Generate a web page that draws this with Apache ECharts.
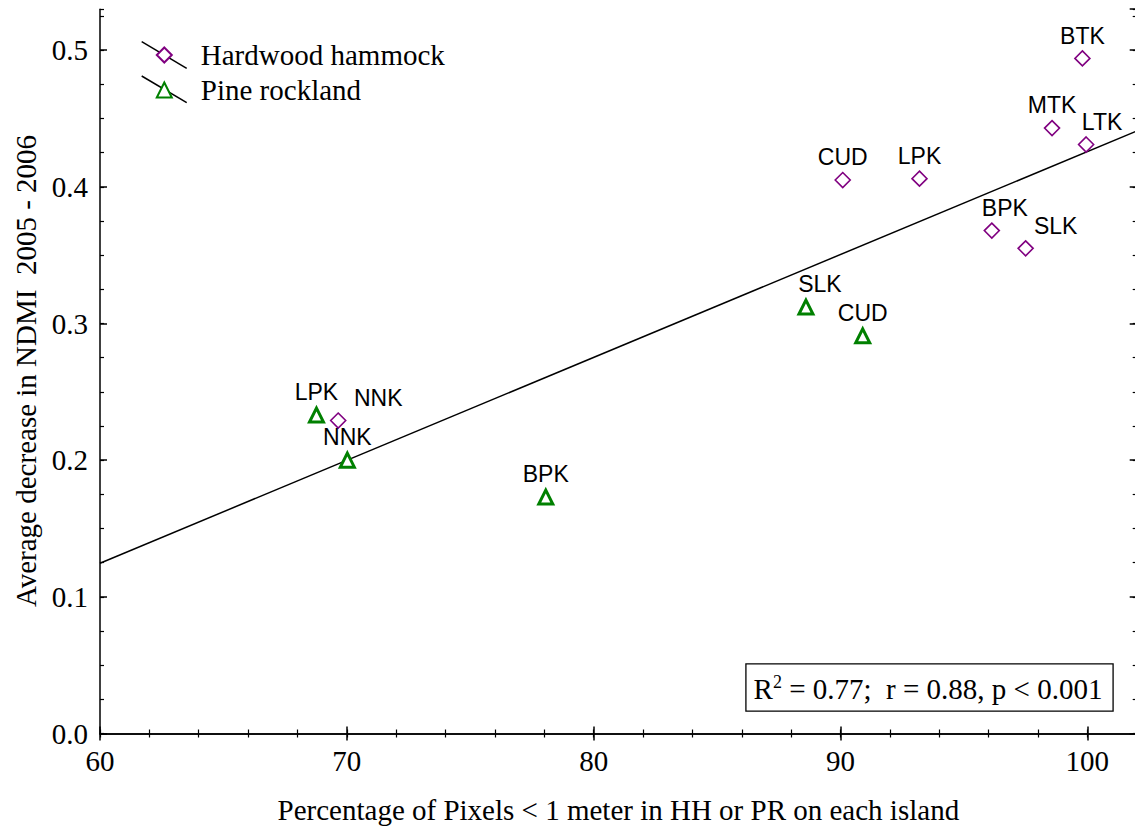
<!DOCTYPE html>
<html>
<head>
<meta charset="utf-8">
<title>NDMI decrease vs. low-elevation pixels</title>
<script src="https://cdn.jsdelivr.net/npm/echarts@6/dist/echarts.min.js"></script>
<style>
  html, body { margin: 0; padding: 0; background: #fff; }
  #chart { width: 1135px; height: 826px; }
</style>
</head>
<body>
<div id="chart"></div>
<script>
// Hardwood hammock (HH) islands
const hhNames = ['BTK', 'MTK', 'LTK', 'CUD', 'LPK', 'BPK', 'SLK', 'NNK'];
const hhPct   = [99.8, 98.57, 99.95, 90.09, 93.2, 96.13, 97.5, 69.65];
const hhNdmi  = [0.494, 0.443, 0.431, 0.405, 0.406, 0.368, 0.355, 0.229];

// Pine rockland (PR) islands
const prNames = ['LPK', 'NNK', 'BPK', 'SLK', 'CUD'];
const prPct   = [68.77, 70.02, 78.06, 88.6, 90.9];
const prNdmi  = [0.233, 0.200, 0.173, 0.312, 0.291];

const seriesNames = ['Hardwood hammock', 'Pine rockland'];
const statsText = ['R', '2', ' = 0.77;  r = 0.88, p < 0.001'];

const xMin = 60, xMax = 102, yMin = 0, yMax = 0.53;

// Least-squares fit over both vegetation types
const allX = hhPct.concat(prPct);
const allY = hhNdmi.concat(prNdmi);
const mx = allX.reduce((a, b) => a + b, 0) / allX.length;
const my = allY.reduce((a, b) => a + b, 0) / allY.length;
let sxy = 0, sxx = 0;
for (let i = 0; i < allX.length; i++) {
  sxy += (allX[i] - mx) * (allY[i] - my);
  sxx += (allX[i] - mx) * (allX[i] - mx);
}
const slope = sxy / sxx;
const intercept = my - slope * mx;
const fitLine = [xMin, xMax].map(x => [x, intercept + slope * x]);

// Sideways nudges for labels that would otherwise collide
const hhLabelShift = { LTK: 16, BPK: 13, SLK: 30, NNK: 40 };
const prLabelShift = { SLK: 14 };

function points(names, xs, ys, shift) {
  return names.map((n, i) => {
    const d = { name: n, value: [xs[i], ys[i]] };
    if (shift[n]) d.label = { offset: [shift[n], 0] };
    return d;
  });
}

const SERIF = 'Liberation Serif, Times New Roman, serif';
const SANS = 'Liberation Sans, Arial, sans-serif';
const PURPLE = '#800080';
const GREEN = '#008000';
const FS = 29;

const grid = { left: 100, top: 9.2, width: 1036.7, height: 724.3, outerBoundsMode: 'none', containLabel: false };

function xAxisDef(opts) {
  return Object.assign({
    type: 'value', min: xMin, max: xMax, interval: 10,
    axisLine: { show: true, lineStyle: { color: '#000', width: 1.5 } },
    axisTick: { show: true, inside: true, length: 7, lineStyle: { color: '#000', width: 1.5 } },
    axisLabel: { show: false },
    splitLine: { show: false }
  }, opts);
}
function yAxisDef(opts) {
  return Object.assign({
    type: 'value', min: yMin, max: yMax, interval: 0.1,
    axisLine: { show: true, lineStyle: { color: '#000', width: 1.5 } },
    axisTick: { show: true, inside: true, length: 7, lineStyle: { color: '#000', width: 1.5 } },
    axisLabel: { show: false },
    splitLine: { show: false }
  }, opts);
}
const minorX = { interval: 2, axisLine: { show: false }, axisTick: { show: true, inside: true, length: 4, lineStyle: { color: '#000', width: 1.2 } } };
const minorY = { interval: 0.025, axisLine: { show: false }, axisTick: { show: true, inside: true, length: 4, lineStyle: { color: '#000', width: 1.2 } } };

const option = {
  backgroundColor: '#fff',
  animation: false,
  grid: grid,
  xAxis: [
    xAxisDef({
      position: 'bottom',
      axisLabel: { show: true, margin: 13, fontFamily: SERIF, fontSize: FS, color: '#000', showMaxLabel: false },
      name: 'Percentage of Pixels < 1 meter in HH or PR on each island',
      nameLocation: 'middle', nameGap: 61,
      nameTextStyle: { fontFamily: SERIF, fontSize: FS, color: '#000', lineHeight: 30 }
    }),
    xAxisDef({ position: 'top' }),
    xAxisDef(Object.assign({ position: 'bottom' }, minorX)),
    xAxisDef(Object.assign({ position: 'top' }, minorX))
  ],
  yAxis: [
    yAxisDef({
      position: 'left',
      axisLabel: { show: true, margin: 12, fontFamily: SERIF, fontSize: FS, color: '#000', showMaxLabel: false,
        formatter: v => v.toFixed(1) }
    }),
    yAxisDef({ position: 'right' }),
    yAxisDef(Object.assign({ position: 'left' }, minorY)),
    yAxisDef(Object.assign({ position: 'right' }, minorY))
  ],
  legend: {
    orient: 'vertical', left: 155.8, top: 40, padding: 0,
    itemWidth: 15, itemHeight: 15, itemGap: 5,
    data: seriesNames,
    formatter: n => '{g|}' + n,
    textStyle: { fontFamily: SERIF, fontSize: FS, color: '#000', lineHeight: 30,
      rich: { g: { width: 24 } } }
  },
  graphic: [
    { type: 'line', z: 0, silent: true, shape: { x1: 141.7, y1: 41.7, x2: 186.7, y2: 68.3 }, style: { stroke: '#000', lineWidth: 1.5 } },
    { type: 'line', z: 0, silent: true, shape: { x1: 141.7, y1: 76, x2: 186.7, y2: 102.7 }, style: { stroke: '#000', lineWidth: 1.5 } },
    {
      type: 'text', silent: true,
      x: 26, y: 371, rotation: Math.PI / 2,
      style: { text: 'Average decrease in NDMI  2005 - 2006', fontFamily: SERIF, fontSize: FS, fill: '#000',
        align: 'center', verticalAlign: 'middle' }
    },
    {
      type: 'text', silent: true, z: 10,
      x: 929.5, y: 687.5,
      style: {
        text: '{b|' + statsText[0] + '}{s|' + statsText[1] + '}{b|' + statsText[2] + '}',
        align: 'center', verticalAlign: 'middle',
        fill: '#000', backgroundColor: '#fff', borderColor: '#000', borderWidth: 1.3,
        padding: [6, 10, 4, 7],
        rich: {
          b: { fontFamily: SERIF, fontSize: FS, fill: '#000', lineHeight: 36 },
          s: { fontFamily: SERIF, fontSize: 18, fill: '#000', lineHeight: 36, padding: [0, 0, 14, 0] }
        }
      }
    }
  ],
  series: [
    {
      name: 'fit', type: 'line', data: fitLine, z: 1,
      showSymbol: false, symbol: 'none', silent: true,
      lineStyle: { color: '#000', width: 1.5 }
    },
    {
      name: seriesNames[0], type: 'scatter', z: 3,
      data: points(hhNames, hhPct, hhNdmi, hhLabelShift),
      symbol: 'diamond', symbolSize: 15,
      itemStyle: { color: '#fff', borderColor: PURPLE, borderWidth: 1.6, opacity: 1 },
      label: { show: true, position: 'top', distance: 3, formatter: '{b}',
        fontFamily: SANS, fontSize: 23, color: '#000' }
    },
    {
      name: seriesNames[1], type: 'scatter', z: 3,
      data: points(prNames, prPct, prNdmi, prLabelShift),
      symbol: 'triangle', symbolSize: 14,
      itemStyle: { color: '#fff', borderColor: GREEN, borderWidth: 3, opacity: 1 },
      label: { show: true, position: 'top', distance: 3, formatter: '{b}',
        fontFamily: SANS, fontSize: 23, color: '#000' }
    }
  ]
};

const chart = echarts.init(document.getElementById('chart'), null, { renderer: 'svg' });
chart.setOption(option);
</script>
</body>
</html>
